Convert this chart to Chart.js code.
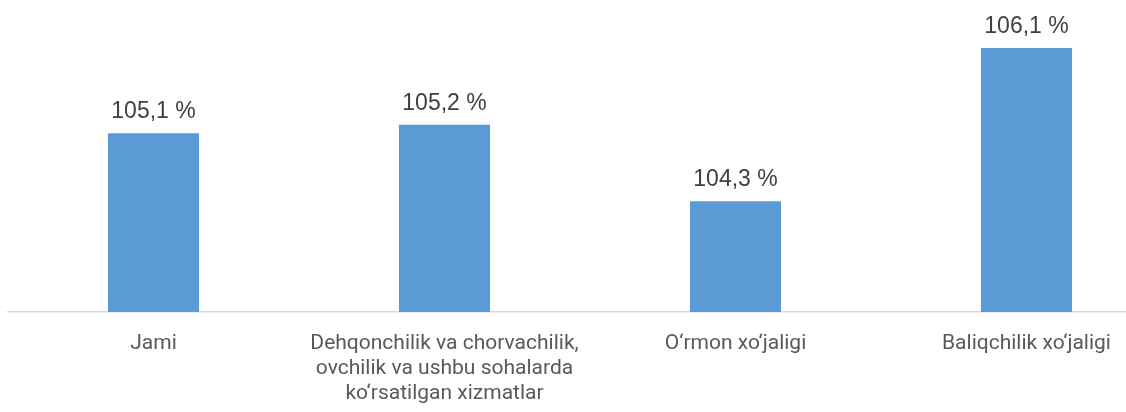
<!DOCTYPE html>
<html>
<head>
<meta charset="utf-8">
<script src="https://cdn.jsdelivr.net/npm/chart.js@4/dist/chart.umd.min.js"></script>
<style>
  html, body { margin: 0; padding: 0; background: #fff; overflow: hidden; }
  #wrap { width: 1126px; height: 412px; overflow: hidden; }
</style>
</head>
<body>
<div id="wrap"><canvas id="c" width="1172" height="412"></canvas></div>
<script>
const categories = [
  'Jami',
  ['Dehqonchilik va chorvachilik,', 'ovchilik va ushbu sohalarda', 'ko‘rsatilgan xizmatlar'],
  'O‘rmon xo‘jaligi',
  'Baliqchilik xo‘jaligi'
];
const values = [105.1, 105.2, 104.3, 106.1];

const fmt = v => v.toFixed(1).replace('.', ',') + ' %';

const valueLabels = {
  id: 'valueLabels',
  afterDatasetsDraw(chart) {
    const ctx = chart.ctx;
    const meta = chart.getDatasetMeta(0);
    ctx.save();
    ctx.font = '23px "Liberation Sans", Arial, sans-serif';
    ctx.fillStyle = '#404040';
    ctx.textAlign = 'center';
    ctx.textBaseline = 'alphabetic';
    meta.data.forEach((bar, i) => {
      ctx.fillText(fmt(values[i]), bar.x, bar.y - 15);
    });
    ctx.restore();
  }
};

new Chart(document.getElementById('c').getContext('2d'), {
  type: 'bar',
  data: {
    labels: categories,
    datasets: [{
      data: values,
      backgroundColor: '#5b9bd5',
      barPercentage: 0.313,
      categoryPercentage: 1
    }]
  },
  options: {
    responsive: false,
    animation: false,
    layout: { padding: { left: 8, top: 14, right: 0, bottom: 0 } },
    scales: {
      x: {
        grid: { display: false, drawTicks: false },
        border: { display: true, color: '#d9d9d9', width: 1.5 },
        ticks: {
          color: '#595959',
          font: { family: 'Roboto', size: 21 },
          padding: 19,
          maxRotation: 0,
          autoSkip: false
        },
        afterFit: s => { s.height = 100; }
      },
      y: {
        display: false,
        min: 103,
        max: 106.5
      }
    },
    plugins: {
      legend: { display: false },
      tooltip: { enabled: false }
    }
  },
  plugins: [valueLabels]
});
</script>
</body>
</html>
